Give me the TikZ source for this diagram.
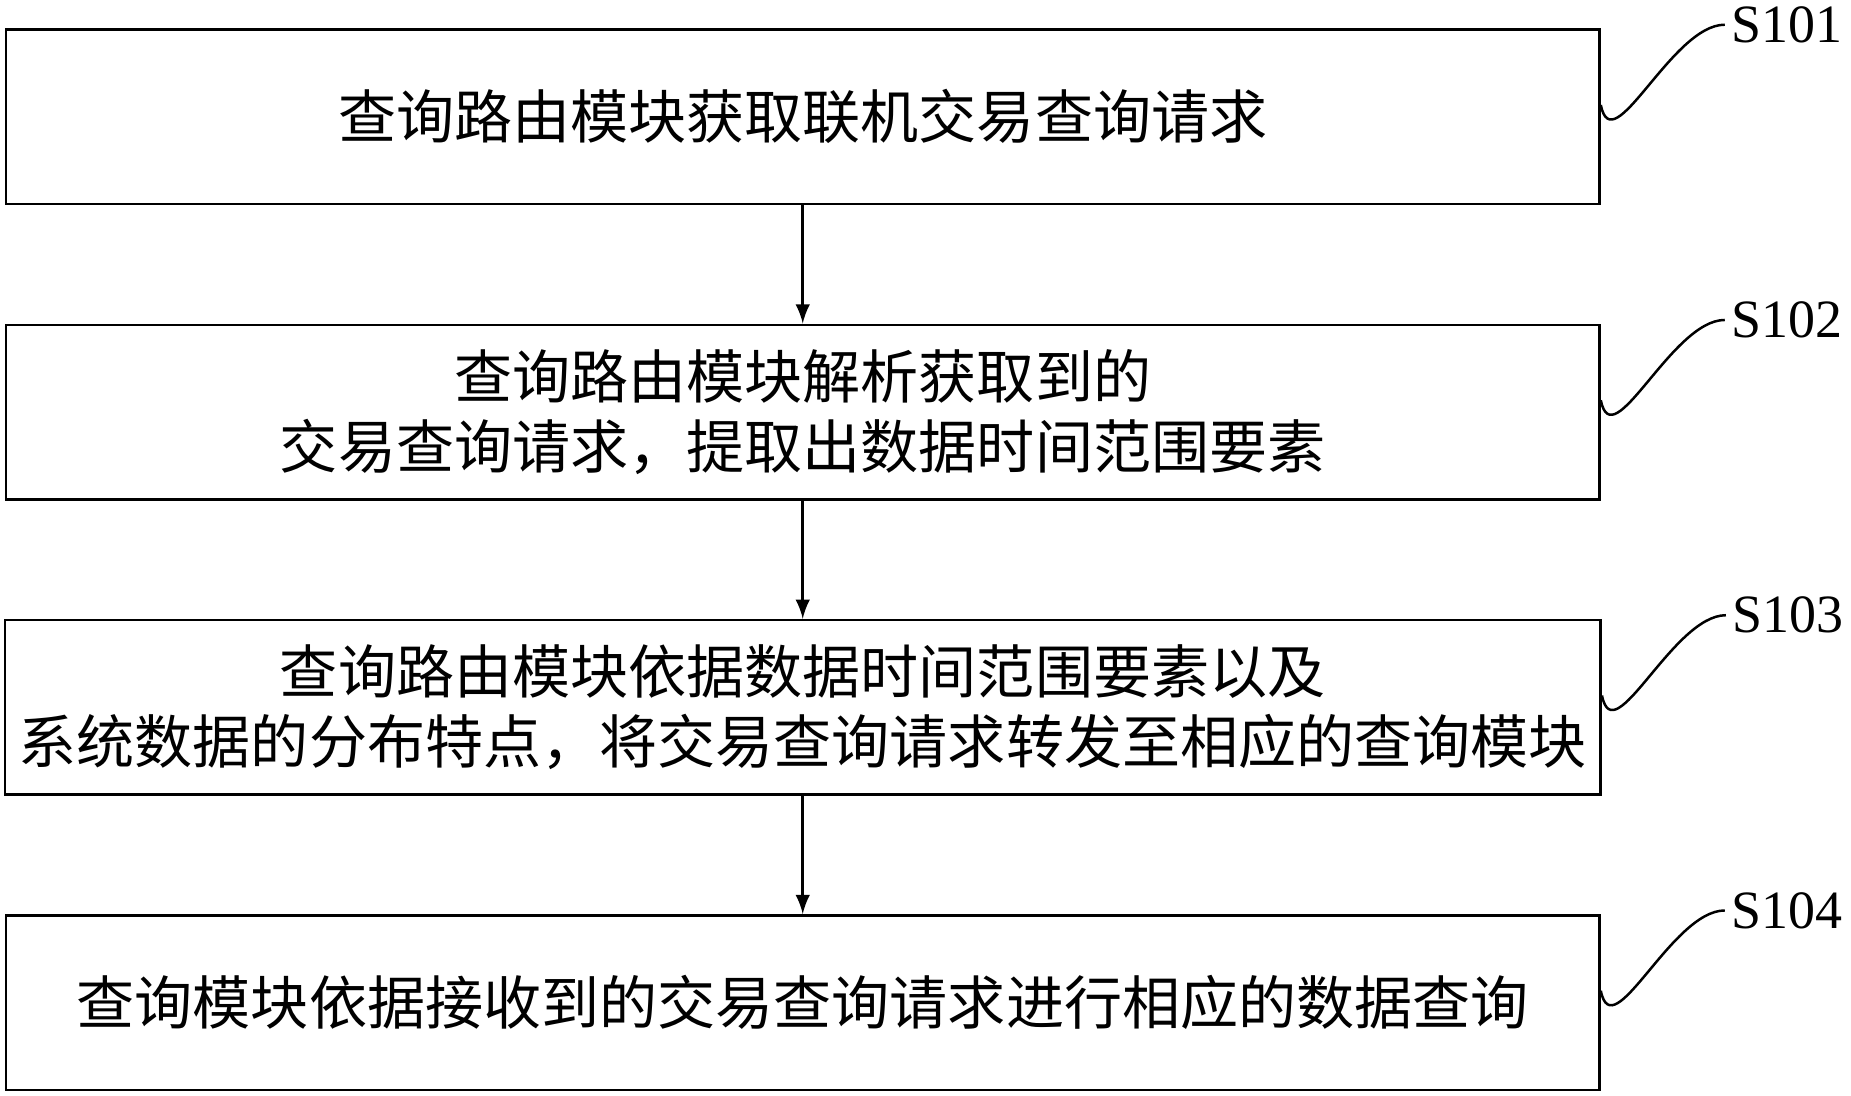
\documentclass[tikz,border=0pt]{standalone}
\usepackage{fontspec}
\setmainfont{Liberation Serif}
\newfontfamily\cjk{Noto Sans CJK SC}
\usetikzlibrary{positioning}

\tikzset{
  stepbox/.style={draw, minimum width=13.5cm, minimum height=1.48cm, align=center,
    font=\cjk\fontsize{14pt}{17pt}\selectfont, line width=0.6pt},
  steplabel/.style={anchor=west, font=\fontsize{13pt}{15pt}\selectfont, inner sep=0pt},
  flow/.style={-latex, line width=0.6pt}
}

\begin{document}
\begin{tikzpicture}[y=-1cm]
\useasboundingbox (0,0) rectangle (15.68,9.28);

% Step boxes.
\node[stepbox] (b1) at (6.8,0.99) {查询路由模块获取联机交易查询请求};
\node[stepbox, below=1.0cm of b1] (b2) {查询路由模块解析获取到的\\交易查询请求，提取出数据时间范围要素};
\node[stepbox, below=1.0cm of b2] (b3) {查询路由模块依据数据时间范围要素以及\\系统数据的分布特点，将交易查询请求转发至相应的查询模块};
\node[stepbox, below=1.0cm of b3] (b4) {查询模块依据接收到的交易查询请求进行相应的数据查询};

% Arrows between steps.
\foreach \a/\b in {b1/b2,b2/b3,b3/b4}
  \draw[flow] (\a) -- (\b);

% Step labels with curved leaders.
\foreach \n/\t in {b1/S101,b2/S102,b3/S103,b4/S104} {
  \node[steplabel] (l\n) at ([xshift=1.1cm,yshift=0.03cm]\n.north east) {\t};
  \draw[line width=0.6pt] ([yshift=-0.65cm]\n.north east) .. controls ++(0.1,0.5) and ++(-0.45,0) .. ([xshift=-0.05cm]l\n.west);
}
\end{tikzpicture}
\end{document}
